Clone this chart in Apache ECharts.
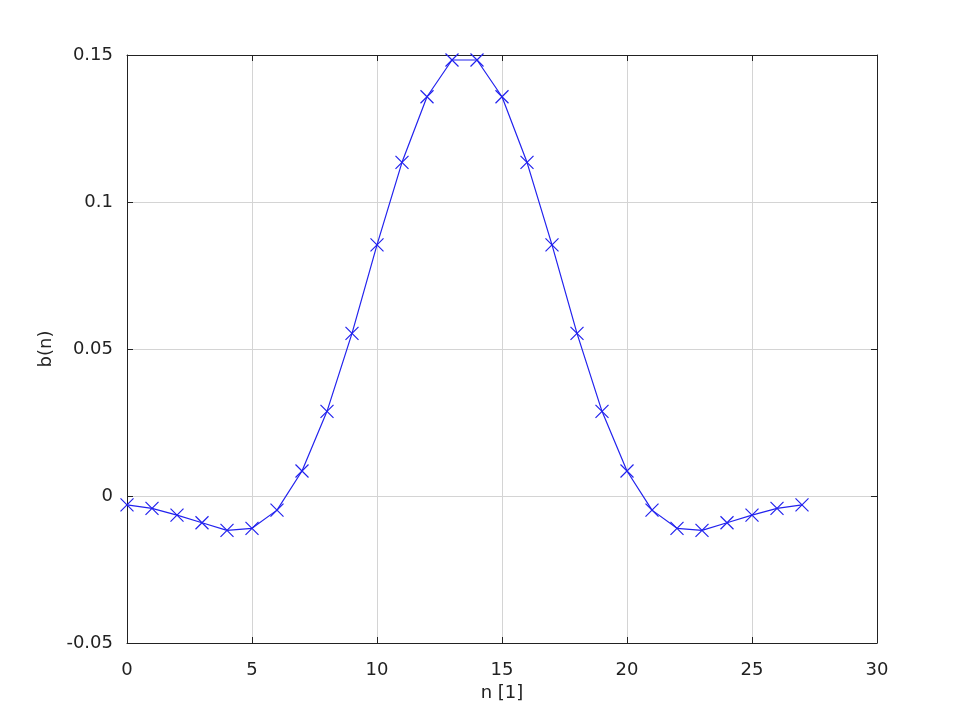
<!DOCTYPE html>
<html><head><meta charset="utf-8">
<script src="https://cdn.jsdelivr.net/npm/echarts@6/dist/echarts.min.js"></script>
<style>html,body{margin:0;padding:0;background:#fff}#c{width:970px;height:724px}</style>
</head><body><div id="c"></div>
<script>
const nValues = [0,1,2,3,4,5,6,7,8,9,10,11,12,13,14,15,16,17,18,19,20,21,22,23,24,25,26,27];
const bValues = [-0.0030,-0.0042,-0.0065,-0.0091,-0.0117,-0.0110,-0.0048,0.0085,0.0288,0.0553,0.0854,0.1135,0.1358,0.1483,0.1483,0.1358,0.1135,0.0854,0.0553,0.0288,0.0085,-0.0048,-0.0110,-0.0117,-0.0091,-0.0065,-0.0042,-0.0030];
const xTicks = [0,5,10,15,20,25,30];
const yTicks = [-0.05,0,0.05,0.1,0.15];
const xLabel = 'n [1]';
const yLabel = 'b(n)';

const font = 'DejaVu Sans, Liberation Sans, sans-serif';
const chart = echarts.init(document.getElementById('c'));
const lineStyleAxis = {color:'#222', width:1};
chart.setOption({
  animation:false,
  grid:{left:127, right:93, top:55, bottom:81},
  xAxis:[{
    type:'value', min:0, max:30, interval:5,
    name:xLabel, nameLocation:'middle', nameGap:40,
    nameTextStyle:{fontFamily:font, fontSize:18, color:'#222'},
    axisLine:{show:true, onZero:false, lineStyle:lineStyleAxis},
    axisTick:{show:true, inside:true, length:6, lineStyle:lineStyleAxis},
    axisLabel:{fontFamily:font, fontSize:18, color:'#222', margin:18,
      formatter:v=>xTicks.includes(v)?String(v):''},
    splitLine:{show:true, lineStyle:{color:'#d4d4d4', width:1}}
  },{
    type:'value', min:0, max:30, interval:5, position:'top',
    axisLine:{show:true, onZero:false, lineStyle:lineStyleAxis},
    axisTick:{show:true, inside:true, length:6, lineStyle:lineStyleAxis},
    axisLabel:{show:false}, splitLine:{show:false}
  }],
  yAxis:[{
    type:'value', min:-0.05, max:0.15, interval:0.05,
    name:yLabel, nameLocation:'middle', nameGap:72, nameRotate:90,
    nameTextStyle:{fontFamily:font, fontSize:18, color:'#222'},
    axisLine:{show:true, onZero:false, lineStyle:lineStyleAxis},
    axisTick:{show:true, inside:true, length:6, lineStyle:lineStyleAxis},
    axisLabel:{fontFamily:font, fontSize:18, color:'#222', margin:14,
      formatter:v=>{const r=Math.round(v*100)/100; return yTicks.some(t=>Math.abs(t-r)<1e-9)?String(r):'';}},
    splitLine:{show:true, lineStyle:{color:'#d4d4d4', width:1}}
  },{
    type:'value', min:-0.05, max:0.15, interval:0.05, position:'right',
    axisLine:{show:true, onZero:false, lineStyle:lineStyleAxis},
    axisTick:{show:true, inside:true, length:6, lineStyle:lineStyleAxis},
    axisLabel:{show:false}, splitLine:{show:false}
  }],
  series:[{
    type:'line',
    data:nValues.map((n,i)=>[n,bValues[i]]),
    lineStyle:{color:'#2222ee', width:1.2},
    symbol:'path://M0,0L10,10M10,0L0,10',
    symbolSize:13,
    showAllSymbol:true,
    itemStyle:{color:'none', borderColor:'#2222ee', borderWidth:1.2},
    clip:false
  }]
});
</script></body></html>
